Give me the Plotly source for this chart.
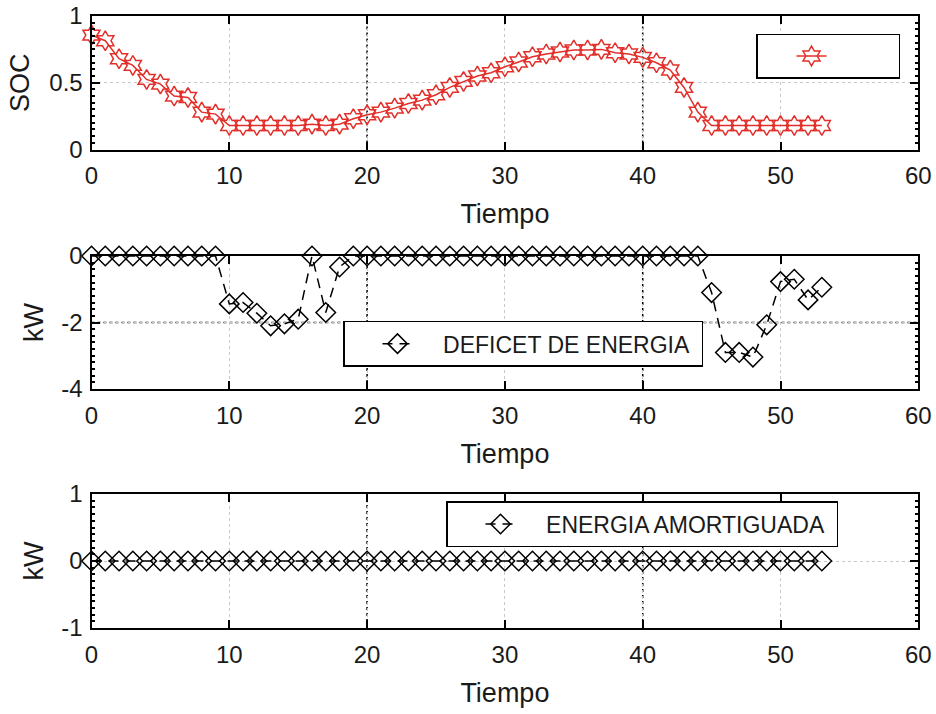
import plotly.graph_objects as go

# time steps
tiempo = list(range(54))

# battery state of charge
soc = [0.857, 0.815, 0.68, 0.63, 0.525, 0.49, 0.40, 0.39, 0.28, 0.265,
       0.18, 0.18, 0.18, 0.18, 0.18, 0.18, 0.19, 0.18, 0.19, 0.23,
       0.26, 0.28, 0.31, 0.345, 0.37, 0.41, 0.465, 0.51, 0.55, 0.575,
       0.62, 0.655, 0.695, 0.715, 0.73, 0.745, 0.745, 0.75, 0.725, 0.715,
       0.69, 0.65, 0.595, 0.465, 0.28, 0.18, 0.18, 0.18, 0.18, 0.18,
       0.18, 0.18, 0.18, 0.18]

# energy deficit (kW)
deficit = [0, 0, 0, 0, 0, 0, 0, 0, 0, 0,
           -1.44, -1.40, -1.72, -2.10, -2.04, -1.90, 0.0, -1.70, -0.33, 0,
           0, 0, 0, 0, 0, 0, 0, 0, 0, 0,
           0, 0, 0, 0, 0, 0, 0, 0, 0, 0,
           0, 0, 0, 0, 0, -1.10, -2.90, -2.90, -3.04, -2.07,
           -0.77, -0.70, -1.32, -0.94]

# buffered energy (kW)
amortiguada = [0] * 54

x_ticks = [0, 10, 20, 30, 40, 50, 60]

FONT = "Liberation Sans, Arial, sans-serif"
RED = "#e22f2a"
W, H = 936, 714
FS = "\u2007"   # figure space, used for padding legend text
PS = "\u2008"   # punctuation space

x_dom = [91.5 / W, 918.3 / W]
doms = [
    [1 - 149.5 / H, 1 - 16 / H],
    [1 - 389 / H, 1 - 256 / H],
    [1 - 628 / H, 1 - 494 / H],
]

fig = go.Figure()

fig.add_trace(go.Scatter(
    x=tiempo, y=soc, mode="lines+markers", name=FS * 5,
    line=dict(color=RED, width=1.5),
    marker=dict(symbol="hexagram-open", size=15, color=RED, line=dict(color=RED, width=1.5)),
    xaxis="x", yaxis="y", legend="legend", cliponaxis=False,
))
fig.add_trace(go.Scatter(
    x=tiempo, y=deficit, mode="lines+markers", name=FS * 2 + "DEFICET DE ENERGIA" + PS,
    line=dict(color="black", width=1.5, dash="10px,7px"),
    marker=dict(symbol="diamond-open", size=15, color="black", line=dict(color="black", width=1.5)),
    xaxis="x2", yaxis="y2", legend="legend2", cliponaxis=False,
))
fig.add_trace(go.Scatter(
    x=tiempo, y=amortiguada, mode="lines+markers", name=FS * 2 + "ENERGIA AMORTIGUADA" + PS,
    line=dict(color="black", width=1.5, dash="10px,7px"),
    marker=dict(symbol="diamond-open", size=15, color="black", line=dict(color="black", width=1.5)),
    xaxis="x3", yaxis="y3", legend="legend3", cliponaxis=False,
))

tick_font = dict(family=FONT, size=24, color="#1a1a1a")
title_font = dict(family=FONT, size=27, color="#1a1a1a")


def xaxis(anchor):
    return dict(
        domain=x_dom, anchor=anchor, range=[0, 60], tickvals=x_ticks,
        ticks="inside", ticklen=8, tickwidth=1.5, tickcolor="black",
        showline=True, linecolor="black", linewidth=2, mirror="ticks",
        showgrid=True, gridcolor="#c8c8c8", griddash="dot", gridwidth=1,
        zeroline=False, tickfont=tick_font, ticklabelstandoff=4,
        title=dict(text="Tiempo", font=title_font, standoff=16),
        automargin=False,
    )


def yaxis(anchor, dom, rng, vals, texts, minor_dt, title, standoff):
    return dict(
        domain=dom, anchor=anchor, range=rng, tickvals=vals, ticktext=texts,
        ticks="inside", ticklen=8, tickwidth=1.5, tickcolor="black",
        minor=dict(ticks="inside", ticklen=3, dtick=minor_dt, tickcolor="black", showgrid=False),
        showline=True, linecolor="black", linewidth=2, mirror="ticks",
        showgrid=True, gridcolor="#c8c8c8", griddash="dot", gridwidth=1,
        zeroline=False, tickfont=tick_font, ticklabelstandoff=2,
        title=dict(text=title, font=title_font, standoff=standoff),
        automargin=False,
    )


legend_common = dict(
    bgcolor="white", bordercolor="black", borderwidth=1.5,
    xanchor="left", yanchor="top", font=dict(family=FONT, size=23, color="#1a1a1a"),
    itemclick=False, itemdoubleclick=False,
)

fig.update_layout(
    width=W, height=H,
    margin=dict(l=0, r=0, t=0, b=0),
    paper_bgcolor="white", plot_bgcolor="white",
    showlegend=True,
    xaxis=xaxis("y"),
    xaxis2=xaxis("y2"),
    xaxis3=xaxis("y3"),
    yaxis=yaxis("x", doms[0], [0, 1], [0, 0.5, 1], ["0", "0.5", "1"], 0.05, "SOC", 12),
    yaxis2=yaxis("x2", doms[1], [-4, 0], [-4, -2, 0], ["-4", "-2", "0"], 0.2, "kW", 10),
    yaxis3=yaxis("x3", doms[2], [-1, 1], [-1, 0, 1], ["-1", "0", "1"], 0.1, "kW", 10),
    legend=dict(legend_common, x=756 / W, y=1 - 33.7 / H, indentation=34,
                font=dict(family=FONT, size=22)),
    legend2=dict(legend_common, x=343 / W, y=1 - 320.7 / H, indentation=33),
    legend3=dict(legend_common, x=446 / W, y=1 - 501 / H, indentation=33),
)

# darker dotted reference lines
dark = dict(color="black", width=1.5, dash="dot")
for xa, ya in (("x", "y"), ("x2", "y2"), ("x3", "y3")):
    for xv in (20, 40):
        fig.add_shape(type="line", xref=xa, yref=f"{ya} domain", x0=xv, x1=xv, y0=0, y1=1,
                      line=dark, layer="below")
fig.add_shape(type="line", xref="x2 domain", yref="y2", x0=0, x1=1, y0=-2, y1=-2,
              line=dark, layer="below")

fig.write_html("out.html")
